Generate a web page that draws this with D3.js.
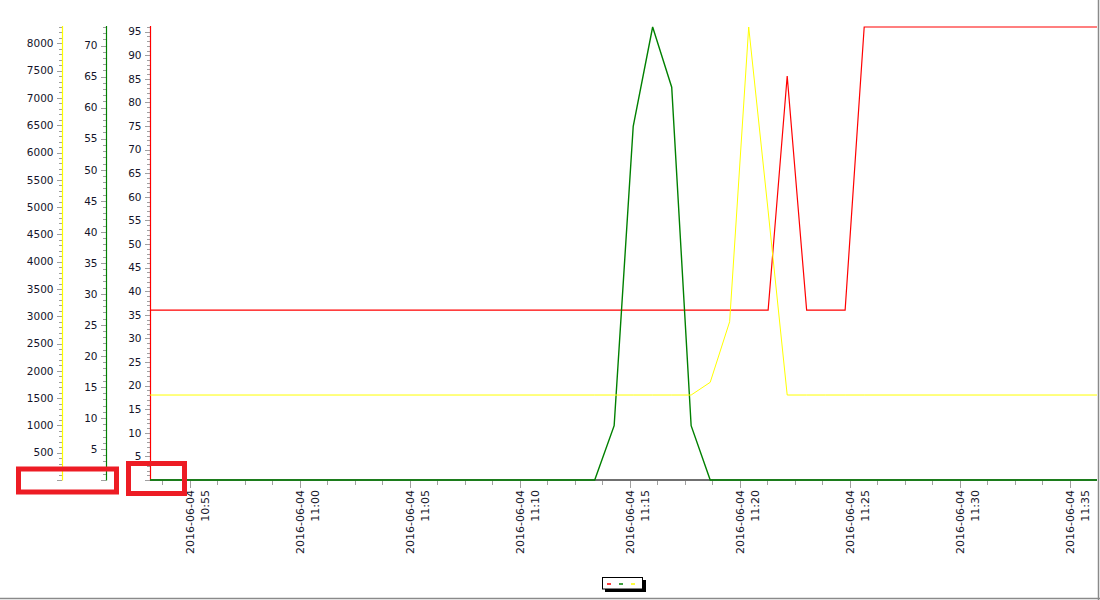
<!DOCTYPE html>
<html>
<head>
<meta charset="utf-8">
<script src="https://cdn.jsdelivr.net/npm/d3@7"></script>
<style>
  html, body { margin: 0; padding: 0; background: #fff; }
  svg { display: block; }
  text { font-family: "DejaVu Sans", Verdana, sans-serif; fill: #14142a; }
</style>
</head>
<body>
<svg id="chart" width="1100" height="600"></svg>
<script>
// ---------------- data ----------------
const times = [
  "2016-06-04 10:53:11",
  "2016-06-04 11:13:24", "2016-06-04 11:14:17", "2016-06-04 11:15:09",
  "2016-06-04 11:16:02", "2016-06-04 11:16:54", "2016-06-04 11:17:47",
  "2016-06-04 11:18:39", "2016-06-04 11:19:32", "2016-06-04 11:20:24",
  "2016-06-04 11:21:17", "2016-06-04 11:22:09", "2016-06-04 11:23:02",
  "2016-06-04 11:23:54", "2016-06-04 11:24:47", "2016-06-04 11:25:39",
  "2016-06-04 11:36:14"
];
const redValues    = [36, 36, 36, 36, 36, 36, 36, 36, 36, 36, 36, 85.6, 36, 36, 36, 96, 96];
const greenValues  = [0, 0, 8.75, 57, 73, 63.3, 8.75, 0, 0, 0, 0, 0, 0, 0, 0, 0, 0];
const yellowValues = [1557, 1557, 1557, 1557, 1557, 1557, 1557, 1790, 2900, 8300, 4930, 1557, 1557, 1557, 1557, 1557, 1557];

const redMax = 96, greenMax = 73, yellowMax = 8300;
const redTicks = [5,10,15,20,25,30,35,40,45,50,55,60,65,70,75,80,85,90,95];
const greenTicks = [5,10,15,20,25,30,35,40,45,50,55,60,65,70];
const yellowTicks = [500,1000,1500,2000,2500,3000,3500,4000,4500,5000,5500,6000,6500,7000,7500,8000];
const xTickLabels = ["10:55","11:00","11:05","11:10","11:15","11:20","11:25","11:30","11:35"];
const datePart = "2016-06-04";
const seriesColors = ["#ff0000", "#008000", "#ffff00"];

// ---------------- layout ----------------
const svg = d3.select("#chart");
const parse = d3.timeParse("%Y-%m-%d %H:%M:%S");
const parseHM = d3.timeParse("%Y-%m-%d %H:%M");
const dates = times.map(parse);

const plotLeft = 150, plotRight = 1097, plotTop = 27, plotBottom = 480;
const x = d3.scaleTime().domain([dates[0], dates[dates.length - 1]]).range([plotLeft, plotRight]);
const yRed = d3.scaleLinear().domain([0, redMax]).range([plotBottom, plotTop]);
const yGreen = d3.scaleLinear().domain([0, greenMax]).range([plotBottom, plotTop]);
const yYellow = d3.scaleLinear().domain([0, yellowMax]).range([plotBottom, plotTop]);

// borders (right, bottom)
svg.append("line").attr("x1", 0).attr("x2", 1100).attr("y1", 598.5).attr("y2", 598.5)
  .attr("stroke", "#8a8a8a").attr("stroke-width", 1.5);
svg.append("line").attr("x1", 1098.5).attr("x2", 1098.5).attr("y1", 0).attr("y2", 600)
  .attr("stroke", "#8a8a8a").attr("stroke-width", 1.5);

// ---------------- y axes ----------------
function drawYAxis(axisX, scale, majorTicks, minorStep, color, maxV) {
  const g = svg.append("g");
  const minor = d3.range(0, maxV + 1e-9, minorStep);
  g.selectAll(".mn").data(minor).enter().append("line")
    .attr("x1", axisX - 3).attr("x2", axisX)
    .attr("y1", d => Math.round(scale(d)) + 0.5).attr("y2", d => Math.round(scale(d)) + 0.5)
    .attr("stroke", "#a0a0a0").attr("stroke-width", 1);
  const major = [0].concat(majorTicks);
  g.selectAll(".mj").data(major).enter().append("line")
    .attr("x1", axisX - 5).attr("x2", axisX)
    .attr("y1", d => Math.round(scale(d)) + 0.5).attr("y2", d => Math.round(scale(d)) + 0.5)
    .attr("stroke", "#a0a0a0").attr("stroke-width", 1);
  g.selectAll("text").data(majorTicks).enter().append("text")
    .attr("x", axisX - 8.5).attr("y", d => scale(d)).attr("dy", "0.36em")
    .attr("text-anchor", "end").attr("font-size", "10.5px")
    .text(d => d);
  g.append("line").attr("x1", axisX + 0.5).attr("x2", axisX + 0.5)
    .attr("y1", plotTop - 1).attr("y2", plotBottom + 0.5)
    .attr("stroke", color).attr("stroke-width", 1.2);
}
drawYAxis(62, yYellow, yellowTicks, 100, "#ffff00", yellowMax);
drawYAxis(106, yGreen, greenTicks, 1, "#008000", greenMax);
drawYAxis(150, yRed, redTicks, 1, "#ff0000", redMax);

// ---------------- x axis ----------------
const majorDates = xTickLabels.map(s => parseHM(datePart + " " + s));
const minorDates = [];
{
  const step = 75 * 1000; // 1.25 min
  const t0 = majorDates[0].getTime();
  for (let t = t0 - step * 8; t <= x.domain()[1].getTime() + 1; t += step) {
    if (t >= x.domain()[0].getTime()) minorDates.push(new Date(t));
  }
}
const xg = svg.append("g");
xg.selectAll(".xmn").data(minorDates).enter().append("line")
  .attr("x1", d => Math.round(x(d)) + 0.5).attr("x2", d => Math.round(x(d)) + 0.5)
  .attr("y1", plotBottom + 1).attr("y2", plotBottom + 5)
  .attr("stroke", "#a0a0a0");
xg.selectAll(".xmj").data(majorDates).enter().append("line")
  .attr("x1", d => Math.round(x(d)) + 0.5).attr("x2", d => Math.round(x(d)) + 0.5)
  .attr("y1", plotBottom + 1).attr("y2", plotBottom + 8)
  .attr("stroke", "#a0a0a0");
const xl = xg.selectAll(".xl").data(majorDates).enter().append("text")
  .attr("transform", d => `translate(${x(d)},490) rotate(-90)`)
  .attr("text-anchor", "end").attr("font-size", "11px");
xl.append("tspan").attr("x", 0).attr("y", 4).text(datePart);
xl.append("tspan").attr("x", 0).attr("y", 19).text((d, i) => xTickLabels[i]);

// x-axis baseline
svg.append("line").attr("x1", plotLeft).attr("x2", plotRight)
  .attr("y1", plotBottom).attr("y2", plotBottom)
  .attr("stroke", "#707070").attr("stroke-width", 2.2);

// ---------------- series ----------------
const series = [
  { values: redValues, scale: yRed, color: seriesColors[0], width: 1.2 },
  { values: greenValues, scale: yGreen, color: seriesColors[1], width: 1.4 },
  { values: yellowValues, scale: yYellow, color: seriesColors[2], width: 1 }
];
svg.append("clipPath").attr("id", "clip").append("rect")
  .attr("x", plotLeft).attr("y", plotTop - 2).attr("width", plotRight - plotLeft + 1).attr("height", plotBottom - plotTop + 4);
series.forEach(s => {
  const line = d3.line().x((d, i) => x(dates[i])).y(d => s.scale(d));
  svg.append("path").datum(s.values)
    .attr("d", line)
    .attr("fill", "none")
    .attr("stroke", s.color)
    .attr("stroke-width", s.width)
    .attr("clip-path", "url(#clip)");
});

// ---------------- legend ----------------
const lg = svg.append("g");
lg.append("rect").attr("x", 605).attr("y", 580).attr("width", 41).attr("height", 12).attr("fill", "#000");
lg.append("rect").attr("x", 602.5).attr("y", 577.5).attr("width", 40).attr("height", 11.5)
  .attr("fill", "#fff").attr("stroke", "#000").attr("stroke-width", 1);
lg.selectAll(".ld").data(seriesColors).enter().append("line")
  .attr("x1", (d, i) => 607 + i * 12).attr("x2", (d, i) => 611 + i * 12)
  .attr("y1", 584).attr("y2", 584)
  .attr("stroke", d => d).attr("stroke-width", 1.5);

// ---------------- red annotation boxes ----------------
svg.append("rect").attr("x", 18.5).attr("y", 469).attr("width", 98).attr("height", 23)
  .attr("fill", "none").attr("stroke", "#ed1c24").attr("stroke-width", 5);
svg.append("rect").attr("x", 128.5).attr("y", 463.5).attr("width", 56).attr("height", 30)
  .attr("fill", "none").attr("stroke", "#ed1c24").attr("stroke-width", 5);
</script>
</body>
</html>
